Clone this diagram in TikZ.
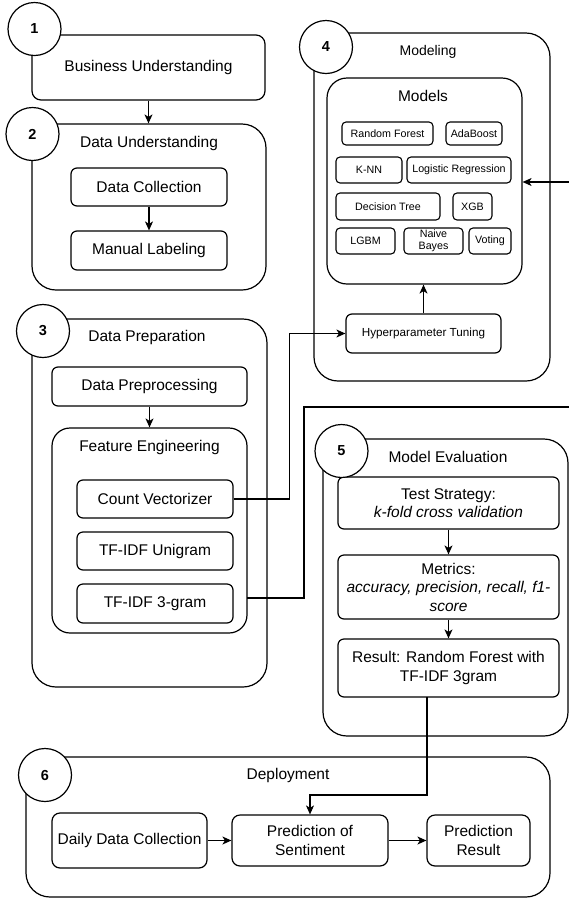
\documentclass[tikz,border=0pt]{standalone}
\usepackage{fontspec}
\setmainfont{Liberation Sans}
\usetikzlibrary{arrows.meta}
\begin{document}
\begin{tikzpicture}[x=1pt,y=-1pt,
  outer/.style={draw, line width=1.2pt, rounded corners=24pt, inner sep=0pt},
  mid/.style={draw, line width=1.2pt, rounded corners=18pt, inner sep=0pt},
  box/.style={draw, line width=1.2pt, rounded corners=6pt, inner sep=0pt, align=center,
    font=\fontsize{15.5}{18.5}\selectfont},
  sbox/.style={draw, line width=1.1pt, rounded corners=4pt, inner sep=0pt, align=center,
    font=\fontsize{10.7}{12}\selectfont},
  num/.style={circle, draw, line width=1.2pt, fill=white, minimum size=53pt, inner sep=0pt,
    font=\bfseries\fontsize{14.5}{16}\selectfont},
  ttl/.style={inner sep=0pt, font=\fontsize{15.5}{18}\selectfont},
  con/.style={line width=1.1pt},
  arr/.style={line width=1.1pt, -{Stealth[length=9pt,width=8pt,inset=2.5pt]}}
]
\useasboundingbox (0,0) rectangle (569,898);

% ---------- 1 Business Understanding
\node[box, rounded corners=9pt, minimum width=233pt, minimum height=65pt] (bu) at (148.5,67.5) {Business Understanding};

% ---------- 2 Data Understanding
\node[outer, minimum width=234pt, minimum height=166pt] (du) at (149,207) {};
\node[ttl] (dut) at (149,143) {Data Understanding};
\node[box, minimum width=156pt, minimum height=38pt] (dc) at (149,187) {Data Collection};
\node[box, minimum width=156pt, minimum height=39pt] (ml) at (149,250.5) {Manual Labeling};

% ---------- 4 Modeling
\node[outer, minimum width=236pt, minimum height=348pt] (mod) at (432,207) {};
\node[ttl, font=\fontsize{14}{16}\selectfont] (modt) at (428,52) {Modeling};
\node[mid, rounded corners=20pt, minimum width=195pt, minimum height=206pt] (models) at (424.5,181) {};
\node[ttl] (modelst) at (423,96) {Models};
\node[sbox, minimum width=91pt, minimum height=23pt] (rf) at (387.5,133.5) {Random Forest};
\node[sbox, minimum width=56pt, minimum height=23pt] (ada) at (474,133.5) {AdaBoost};
\node[sbox, minimum width=66pt, minimum height=26pt] (knn) at (369,170) {K-NN};
\node[sbox, minimum width=104pt, minimum height=26pt] (lr) at (459,170) {Logistic Regression};
\node[sbox, minimum width=104pt, minimum height=27pt] (dt) at (388,206.5) {Decision Tree};
\node[sbox, minimum width=39pt, minimum height=27pt] (xgb) at (472.5,206.5) {XGB};
\node[sbox, minimum width=59pt, minimum height=26pt] (lgbm) at (365.5,241) {LGBM};
\node[sbox, minimum width=59pt, minimum height=26pt] (nb) at (433.5,241) {Naive\\Bayes};
\node[sbox, minimum width=42pt, minimum height=26pt] (vot) at (490,241) {Voting};
\node[box, font=\fontsize{11.7}{14}\selectfont, minimum width=155pt, minimum height=39pt] (hp) at (423.5,333.5) {Hyperparameter Tuning};

% ---------- 3 Data Preparation
\node[outer, minimum width=235pt, minimum height=368pt] (dp) at (149.5,503) {};
\node[ttl] (dpt) at (147,337) {Data Preparation};
\node[box, minimum width=195pt, minimum height=39pt] (dpp) at (149.5,386.5) {Data Preprocessing};
\node[mid, minimum width=195pt, minimum height=205pt] (fe) at (149.5,530.5) {};
\node[ttl] (fet) at (149.5,447) {Feature Engineering};
\node[box, minimum width=156pt, minimum height=38pt] (cv) at (155,499) {Count Vectorizer};
\node[box, minimum width=156pt, minimum height=38pt] (tu) at (155,551) {TF-IDF Unigram};
\node[box, minimum width=156pt, minimum height=39pt] (t3) at (155,603.5) {TF-IDF 3-gram};

% ---------- 5 Model Evaluation
\node[outer, minimum width=245pt, minimum height=297pt] (me) at (445.5,587.5) {};
\node[ttl] (met) at (448,457) {Model Evaluation};
\node[box, minimum width=221pt, minimum height=52pt] (ts) at (448.5,503) {Test Strategy:\\\textit{k-fold cross validation}};
\node[box, minimum width=221pt, minimum height=64pt] (mets) at (448.5,587) {Metrics:\\\textit{accuracy, precision, recall, f1-}\\\textit{score}};
\node[box, minimum width=221pt, minimum height=58pt] (res) at (448.5,668) {Result: Random Forest with\\TF-IDF 3gram};

% ---------- 6 Deployment
\node[outer, minimum width=524pt, minimum height=140pt] (dep) at (288,827) {};
\node[ttl] (dept) at (288,775) {Deployment};
\node[box, rounded corners=8pt, minimum width=155pt, minimum height=55pt] (ddc) at (129.5,840.5) {Daily Data Collection};
\node[box, rounded corners=8pt, minimum width=156pt, minimum height=51pt] (pos) at (310,840.5) {Prediction of\\Sentiment};
\node[box, rounded corners=8pt, minimum width=103pt, minimum height=51pt] (pr) at (478.5,840.5) {Prediction\\Result};

% ---------- number circles
\node[num] (n1) at (34.5,29) {1};
\node[num] (n2) at (32.5,134) {2};
\node[num] (n3) at (43,331) {3};
\node[num] (n4) at (326,47) {4};
\node[num] (n5) at (341.5,451) {5};
\node[num] (n6) at (45,775) {6};

% ---------- connectors
\draw[arr] (bu.south) -- (bu.south |- du.north);
\draw[arr] (dc.south) -- (ml.north);
\draw[arr] (dpp.south) -- (fe.north);
\draw[arr] (hp.north) -- (hp.north |- models.south);
\draw[arr] (cv.east) -- ++(56,0) |- (hp.west);
\coordinate (feo) at (247,598);
\coordinate (e1) at (569,407);
\draw[con] (feo) -- ++(57,0) |- (e1);
\coordinate (e2) at (569,182);
\draw[arr] (e2) -- (models.east |- e2);
\draw[arr] (ts.south) -- (mets.north);
\draw[arr] (mets.south) -- (res.north);
\coordinate (ro) at (427,697);
\coordinate (bend) at (427,795);
\draw[arr] (ro) -- (bend) -| (pos.north);
\draw[arr] (ddc.east) -- (pos.west);
\draw[arr] (pos.east) -- (pr.west);
\end{tikzpicture}
\end{document}
